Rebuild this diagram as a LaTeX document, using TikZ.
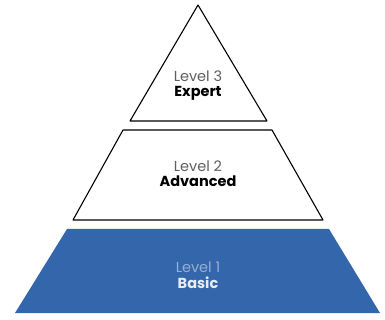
\documentclass[tikz,border=0pt]{standalone}
\usepackage{fontspec}
\setmainfont{Poppins}
\usepackage{tikz}
\usetikzlibrary{positioning}
\definecolor{basicblue}{RGB}{52,102,172}
\definecolor{levelgrey}{RGB}{95,95,95}
\definecolor{paleblue}{RGB}{150,175,212}

\begin{document}
\begin{tikzpicture}[x=1pt,y=-1pt,font=\fontsize{14.5}{16}\selectfont,
    layer/.style={draw=black, line width=1.1pt, line join=round},
    lvl/.style={text=levelgrey, inner sep=0pt},
    title/.style={font=\fontsize{14.5}{16}\selectfont\bfseries, inner sep=0pt}]

\useasboundingbox (0,0) rectangle (385,320);

% Level 3
\draw[layer, fill=white] (198,5) -- (267,121) -- (130,121) -- cycle;
\node[lvl] (lvl3) at (198,76) {Level 3};
\node[title, below=4pt of lvl3] (expert) {Expert};

% Level 2
\draw[layer, fill=white] (123,130) -- (272,130) -- (323,220) -- (73,220) -- cycle;
\node[lvl] (lvl2) at (198,166) {Level 2};
\node[title, below=4pt of lvl2] (advanced) {Advanced};

% Level 1
\fill[basicblue] (67,229) -- (329,229) -- (380,313) -- (15,313) -- cycle;
\node[lvl, text=paleblue] (lvl1) at (198,267) {Level 1};
\node[title, text=white!88!basicblue, below=4pt of lvl1] (basic) {Basic};

\end{tikzpicture}
\end{document}
